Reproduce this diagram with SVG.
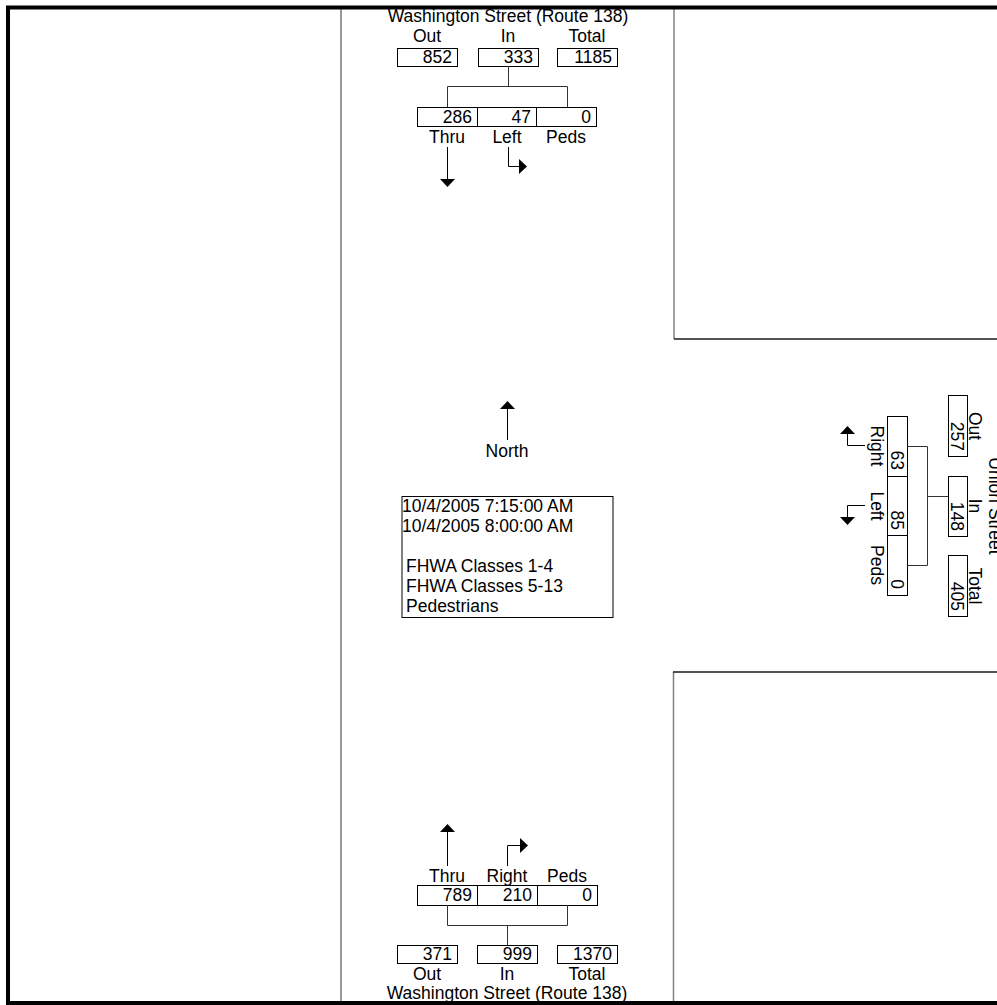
<svg xmlns="http://www.w3.org/2000/svg" width="997" height="1005" viewBox="0 0 997 1005">
<defs>
<style>
text{font-family:"Liberation Sans",Arial,sans-serif;font-size:17.5px;fill:#000}
.m{text-anchor:middle}
.e{text-anchor:end}
.box{fill:#fff;stroke:#000;stroke-width:1}
.con{fill:none;stroke:#333;stroke-width:1}
.arr{fill:none;stroke:#000;stroke-width:1}
.head{fill:#000}
.gv{stroke:#808080;stroke-width:1.5;fill:none}
.gh{stroke:#1a1a1a;stroke-width:1.5;fill:none}
</style>
</defs>
<rect width="997" height="1005" fill="#fff"/>
<g id="frame">
<line x1="341" y1="8" x2="341" y2="1003" stroke="#333" stroke-width="1"/>
<line class="gv" x1="674" y1="9" x2="674" y2="339"/>
<line class="gh" x1="674" y1="339" x2="1000" y2="339"/>
<line class="gv" x1="673.5" y1="672" x2="673.5" y2="1002"/>
<line class="gh" x1="673" y1="672" x2="1000" y2="672"/>
<rect x="8" y="7.5" width="1000" height="995.5" fill="none" stroke="#000" stroke-width="4"/>
</g>
<g id="north-approach">
<text class="m" x="508" y="22">Washington Street (Route 138)</text>
<text class="m" x="427" y="42">Out</text>
<text class="m" x="508" y="42">In</text>
<text class="m" x="587" y="42">Total</text>
<rect class="box" x="397.5" y="48.5" width="60" height="18"/>
<rect class="box" x="478.5" y="48.5" width="60" height="18"/>
<rect class="box" x="557.5" y="48.5" width="60" height="18"/>
<text class="e" x="452" y="63">852</text>
<text class="e" x="533" y="63">333</text>
<text class="e" x="612" y="63">1185</text>
<rect class="box" x="417.5" y="107.5" width="60" height="19"/>
<rect class="box" x="477.5" y="107.5" width="59" height="19"/>
<rect class="box" x="536.5" y="107.5" width="60" height="19"/>
<text class="e" x="472" y="123">286</text>
<text class="e" x="531" y="123">47</text>
<text class="e" x="591" y="123">0</text>
<text class="m" x="447" y="143">Thru</text>
<text class="m" x="507" y="143">Left</text>
<text class="m" x="566" y="143">Peds</text>
</g>
<g id="south-approach">
<text class="m" x="447" y="882">Thru</text>
<text class="m" x="507" y="882">Right</text>
<text class="m" x="567" y="882">Peds</text>
<rect class="box" x="417.5" y="885.5" width="60" height="20"/>
<rect class="box" x="477.5" y="885.5" width="60" height="20"/>
<rect class="box" x="537.5" y="885.5" width="60" height="20"/>
<text class="e" x="472" y="901">789</text>
<text class="e" x="532" y="901">210</text>
<text class="e" x="592" y="901">0</text>
<rect class="box" x="397.5" y="945.5" width="60" height="18"/>
<rect class="box" x="477.5" y="945.5" width="60" height="18"/>
<rect class="box" x="557.5" y="945.5" width="60" height="18"/>
<text class="e" x="452" y="960">371</text>
<text class="e" x="532" y="960">999</text>
<text class="e" x="612" y="960">1370</text>
<text class="m" x="427" y="980">Out</text>
<text class="m" x="507" y="980">In</text>
<text class="m" x="587" y="980">Total</text>
<text class="m" x="507" y="999">Washington Street (Route 138)</text>
</g>
<g id="east-approach">
<rect class="box" x="948.5" y="395.5" width="19" height="61"/>
<rect class="box" x="948.5" y="476.5" width="19" height="60"/>
<rect class="box" x="948.5" y="555.5" width="19" height="61"/>
<text class="e" transform="translate(951,451) rotate(90)">257</text>
<text class="e" transform="translate(951,531) rotate(90)">148</text>
<text class="e" transform="translate(951,611) rotate(90)">405</text>
<text class="m" transform="translate(969,426) rotate(90)">Out</text>
<text class="m" transform="translate(969,506) rotate(90)">In</text>
<text class="m" transform="translate(969,586) rotate(90)">Total</text>
<text class="m" transform="translate(989,506) rotate(90)">Union Street</text>
<rect class="box" x="887.5" y="416.5" width="20" height="60"/>
<rect class="box" x="887.5" y="476.5" width="20" height="59"/>
<rect class="box" x="887.5" y="535.5" width="20" height="60"/>
<text class="e" transform="translate(890.5,470) rotate(90)">63</text>
<text class="e" transform="translate(890.5,530) rotate(90)">85</text>
<text class="e" transform="translate(890.5,589) rotate(90)">0</text>
<text class="m" transform="translate(871,446) rotate(90)">Right</text>
<text class="m" transform="translate(871,506) rotate(90)">Left</text>
<text class="m" transform="translate(871,565) rotate(90)">Peds</text>
</g>
<g id="north-arrow">
<line class="arr" x1="507.5" y1="440" x2="507.5" y2="408"/>
<polygon class="head" points="500,409 515,409 507.5,401"/>
<text class="m" x="507" y="457">North</text>
</g>
<g id="legend">
<rect class="box" x="402" y="496.5" width="211" height="121"/>
<text x="402" y="512">10/4/2005 7:15:00 AM</text>
<text x="402" y="532">10/4/2005 8:00:00 AM</text>
<text x="406" y="572">FHWA Classes 1-4</text>
<text x="406" y="592">FHWA Classes 5-13</text>
<text x="406" y="612">Pedestrians</text>
</g>
<g id="connectors">
<path class="con" d="M508.5,66 V86.5 M447.5,86.5 H567.5 M447.5,86.5 V107 M567.5,86.5 V107"/>
<path class="arr" d="M447.5,147 V180"/>
<polygon class="head" points="440,179 455,179 447.5,187"/>
<path class="arr" d="M508.5,147 V166.5 H520"/>
<polygon class="head" points="519,159 519,174 527,166.5"/>
<path class="con" d="M447.5,905 V925.5 M567.5,905 V925.5 M447.5,925.5 H567.5 M507.5,925.5 V945"/>
<path class="arr" d="M447.5,866 V831"/>
<polygon class="head" points="440,832 455,832 447.5,824"/>
<path class="arr" d="M507.5,866 V845.5 H521"/>
<polygon class="head" points="520,838 520,853 528,845.5"/>
<path class="con" d="M907,446.5 H927.5 V565.5 H907 M927.5,496.5 H948"/>
<path class="arr" d="M865,445.5 H847.5 V433"/>
<polygon class="head" points="840,434 855,434 847.5,426"/>
<path class="arr" d="M865,505.5 H847.5 V517"/>
<polygon class="head" points="840,517 855,517 847.5,525"/>
</g>
</svg>
